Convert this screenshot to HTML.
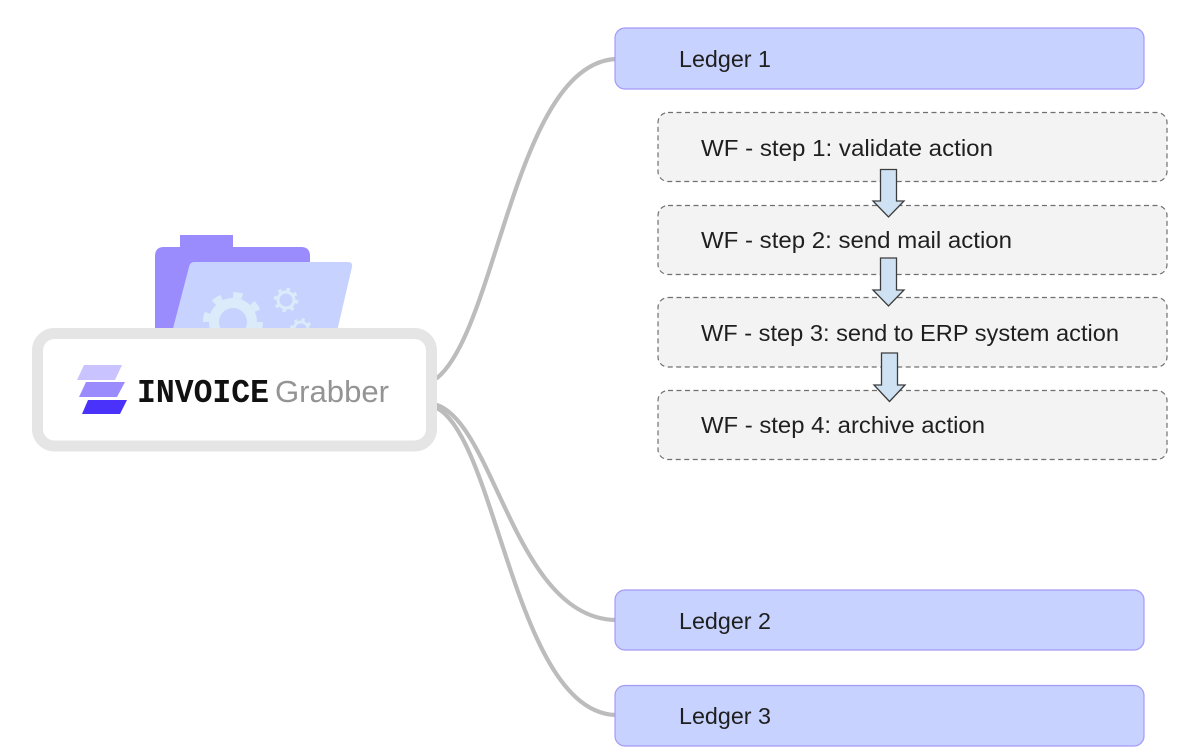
<!DOCTYPE html>
<html lang="en">
<head>
<meta charset="utf-8">
<title>Invoice Grabber workflow</title>
<style>
html,body{margin:0;padding:0;background:#fff;width:1200px;height:755px;overflow:hidden}
svg{display:block}
text{font-family:"Liberation Sans",sans-serif;fill:#1f1f1f}
.t{font-size:23px}
</style>
</head>
<body>
<svg width="1200" height="755" viewBox="0 0 1200 755" xmlns="http://www.w3.org/2000/svg">
  <rect width="1200" height="755" fill="#fff"/>

  <!-- connectors -->
  <g fill="none" stroke="#bcbcbc" stroke-width="4.2" stroke-linecap="round">
    <path d="M437,378 C497,330 515,66 615,59"/>
    <path d="M437,405 C495,425 515,617 615,620"/>
    <path d="M437,408 C497,440 515,710 615,715"/>
  </g>

  <!-- folder -->
  <path d="M180,247V235H233V247H301Q310,247 310,256V340H155V256Q155,247 164,247Z" fill="#9a8cfd"/>
  <path d="M194,262H348Q353,262 352,267L335,340H170L189,267Q190,262 194,262Z" fill="#c7d3fe"/>
  <g fill="none" stroke="#dcebfa">
    <circle cx="233" cy="322" r="19" stroke-width="10"/>
    <circle cx="233" cy="322" r="27" stroke-width="6" stroke-dasharray="9.2 12"/>
    <circle cx="286" cy="300" r="8" stroke-width="3"/>
    <circle cx="286" cy="300" r="10.800" stroke-width="3" stroke-dasharray="3.500 5"/>
    <circle cx="301" cy="329" r="7" stroke-width="2.800"/>
    <circle cx="301" cy="329" r="9.500" stroke-width="2.800" stroke-dasharray="3.200 4.300"/>
  </g>

  <!-- logo box -->
  <rect x="37.500" y="333.500" width="394" height="112.500" rx="17" fill="#fff" stroke="#e5e5e5" stroke-width="11"/>
  <polygon points="84,365 122,365 115,380 77,380" fill="#c9c3ff"/>
  <polygon points="86,382 125,382 117,397 79,397" fill="#9a8cfd"/>
  <polygon points="88,400 127,400 120,414 82,414" fill="#4a32fb"/>
  <text x="137" y="402" font-size="33" font-weight="700" textLength="132" lengthAdjust="spacingAndGlyphs" style="font-family:'Liberation Mono',monospace;fill:#111">INVOICE</text>
  <text x="275" y="402" font-size="31" textLength="114" lengthAdjust="spacingAndGlyphs" style="fill:#949494">Grabber</text>

  <!-- ledgers -->
  <g fill="#c7d2fe" stroke="#a599f8" stroke-width="1.200">
    <rect x="615" y="28" width="529" height="61" rx="10"/>
    <rect x="615" y="590" width="529" height="60" rx="10"/>
    <rect x="615" y="685.500" width="529" height="60.500" rx="10"/>
  </g>
  <text class="t" x="679" y="67" textLength="92" lengthAdjust="spacingAndGlyphs">Ledger 1</text>
  <text class="t" x="679" y="629" textLength="92" lengthAdjust="spacingAndGlyphs">Ledger 2</text>
  <text class="t" x="679" y="724" textLength="92" lengthAdjust="spacingAndGlyphs">Ledger 3</text>

  <!-- workflow steps -->
  <g fill="#f3f3f3" stroke="#707070" stroke-width="1.200" stroke-dasharray="5 3.500">
    <rect x="658" y="112.500" width="509" height="69" rx="10"/>
    <rect x="658" y="205.500" width="509" height="69" rx="10"/>
    <rect x="658" y="297.500" width="509" height="69.500" rx="10"/>
    <rect x="658" y="390.500" width="509" height="69" rx="10"/>
  </g>
  <text class="t" x="701" y="156" textLength="292" lengthAdjust="spacingAndGlyphs">WF - step 1: validate action</text>
  <text class="t" x="701" y="248" textLength="311" lengthAdjust="spacingAndGlyphs">WF - step 2: send mail action</text>
  <text class="t" x="701" y="341" textLength="418" lengthAdjust="spacingAndGlyphs">WF - step 3: send to ERP system action</text>
  <text class="t" x="701" y="433" textLength="284" lengthAdjust="spacingAndGlyphs">WF - step 4: archive action</text>

  <!-- block arrows -->
  <g fill="#cfe2f3" stroke="#3c3c3c" stroke-width="1.300" stroke-linejoin="miter">
    <polygon points="880.500,169.500 896.500,169.500 896.500,201 904,201 888.500,217 873,201 880.500,201"/>
    <polygon points="880.500,258 896.500,258 896.500,290 904,290 888.500,306 873,290 880.500,290"/>
    <polygon points="881.500,353 897.500,353 897.500,385 905,385 889.500,401.500 874,385 881.500,385"/>
  </g>
</svg>
</body>
</html>
